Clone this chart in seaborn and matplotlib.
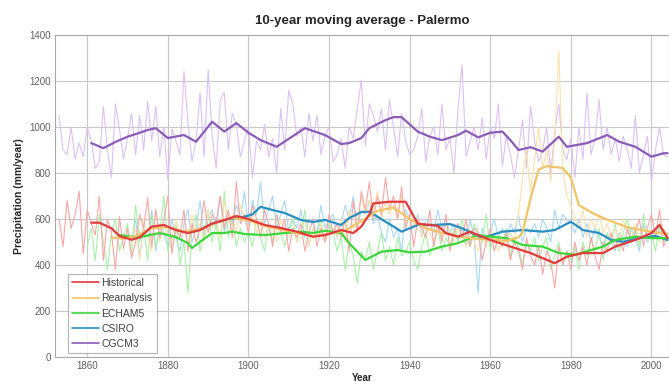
import numpy as np
import pandas as pd
import seaborn as sns
import matplotlib.pyplot as plt
from matplotlib.lines import Line2D

sns.set_style('whitegrid')
plt.rcParams['font.family'] = ['Liberation Sans', 'DejaVu Sans']

# ----------------------------------------------------------------------
# data: yearly precipitation (thin) and 10-year moving average (thick)
# ----------------------------------------------------------------------

series_names = ['Historical', 'Reanalysis', 'ECHAM5', 'CSIRO', 'CGCM3']

hist_start = 1853
hist_raw = [600, 480, 680, 560, 620, 720, 450, 640, 580, 530,
            700, 420, 600, 540, 380, 610, 470, 560, 430, 500,
            620, 560, 690, 480, 640, 520, 600, 700, 450, 560,
            520, 640, 460, 580, 500, 560, 680, 540, 620, 590,
            700, 560, 640, 520, 760, 580, 620, 540, 660, 600,
            520, 640, 580, 480, 620, 540, 600, 460, 560, 520,
            580, 460, 540, 600, 480, 560, 500, 620, 540, 580,
            520, 600, 460, 680, 540, 720, 640, 760, 600, 700,
            620, 780, 640, 700, 600, 740, 560, 620, 480, 600,
            560, 520, 640, 480, 580, 500, 620, 460, 540, 580,
            520, 600, 480, 560, 540, 420, 500, 560, 460, 520,
            480, 540, 420, 500, 460, 380, 520, 440, 400, 480,
            360, 460, 420, 300, 480, 400, 460, 380, 500, 420,
            480, 400, 520, 440, 380, 500, 460, 540, 480, 520,
            460, 560, 500, 540, 600, 480, 560, 620, 520, 640,
            480, 520]

rean_start = 1871
rean_raw = [480, 560, 420, 600, 520, 460, 640, 500, 580, 540,
            460, 600, 520, 560, 480, 620, 540, 580, 500, 640,
            560, 600, 520, 680, 580, 620, 540, 660, 600, 560,
            620, 540, 600, 520, 580, 560, 500, 600, 540, 520,
            560, 500, 540, 600, 480, 560, 520, 580, 500, 540,
            560, 520, 600, 500, 640, 560, 600, 700, 620, 680,
            640, 720, 600, 680, 620, 660, 600, 700, 580, 620,
            560, 600, 520, 580, 540, 500, 560, 520, 580, 540,
            500, 560, 520, 480, 540, 500, 460, 520, 480, 540,
            500, 460, 520, 480, 540, 500, 620, 780, 900, 720,
            860, 1000, 820, 900, 760, 940, 1330, 820, 700, 660,
            600, 560, 640, 520, 600, 560, 620, 540, 580, 520,
            560, 500, 600, 540, 520, 580, 500, 560, 540, 520,
            540, 500, 560, 520]

echam_start = 1860
echam_raw = [480, 560, 420, 620, 500, 380, 540, 600, 460, 520,
             580, 440, 660, 500, 560, 420, 620, 480, 540, 700,
             460, 520, 580, 400, 500, 280, 560, 620, 460, 540,
             640, 500, 580, 460, 720, 520, 600, 480, 560, 500,
             540, 480, 600, 520, 460, 580, 500, 620, 540, 480,
             560, 600, 500, 540, 640, 480, 560, 520, 600, 500,
             580, 540, 460, 520, 380, 500, 440, 320, 460, 420,
             500, 380, 460, 540, 420, 480, 400, 520, 440, 460,
             500, 420, 380, 480, 540, 440, 500, 560, 460, 520,
             480, 560, 500, 600, 520, 480, 580, 540, 500, 620,
             460, 540, 500, 480, 560, 440, 520, 480, 400, 500,
             460, 520, 420, 480, 520, 380, 440, 500, 400, 460,
             420, 480, 380, 500, 440, 520, 460, 560, 420, 540,
             500, 580, 460, 540, 600, 500, 560, 480, 620, 520,
             540, 460, 580, 500, 520]

csiro_start = 1871
csiro_raw = [500, 600, 440, 560, 520, 640, 460, 580, 540, 480,
             600, 520, 460, 580, 640, 500, 560, 680, 520, 600,
             640, 560, 700, 540, 620, 580, 660, 600, 720, 560,
             680, 620, 760, 580, 640, 700, 560, 620, 680, 540,
             600, 560, 640, 520, 600, 580, 540, 660, 560, 600,
             620, 520, 580, 660, 600, 700, 560, 640, 620, 680,
             580, 620, 540, 500, 600, 520, 560, 460, 640, 600,
             560, 620, 520, 600, 580, 540, 640, 560, 600, 540,
             580, 500, 560, 480, 600, 520, 280, 560, 500, 540,
             600, 520, 560, 500, 580, 540, 620, 500, 560, 540,
             580, 520, 600, 560, 500, 640, 560, 620, 600, 580,
             540, 600, 520, 580, 500, 560, 520, 480, 540, 500,
             460, 540, 500, 480, 560, 520, 460, 580, 500, 540,
             520, 560, 500, 540]

cgcm_start = 1853
cgcm_raw = [1050, 900, 880, 1000, 860, 930, 870, 1000, 940, 820,
            850, 1090, 900, 780, 1100, 990, 860, 950, 1060, 880,
            1050, 900, 1110, 940, 1090, 870, 1000, 770, 990, 940,
            880, 1240, 1020, 850, 940, 1150, 870, 1248, 960, 820,
            1120, 1150, 900, 1060, 1010, 870, 940, 1000, 780, 940,
            900, 1010, 870, 950, 800, 1080, 900, 1160, 1100, 960,
            1000, 870, 1060, 940, 1050, 880, 960, 1000, 850, 880,
            950, 820, 1000, 950, 1080, 1204, 920, 1100, 1050, 980,
            1080, 900, 1120, 1000, 870, 1060, 940, 880, 900, 960,
            1080, 850, 960, 1000, 880, 1100, 900, 950, 800, 1080,
            1270, 870, 940, 1000, 900, 1040, 860, 1000, 950, 1100,
            830, 960, 880, 780, 900, 1030, 820, 1090, 940, 850,
            900, 1000, 800, 980, 1100, 900, 860, 950, 780, 1000,
            860, 1148, 880, 950, 1120, 900, 1000, 880, 950, 850,
            960, 900, 820, 1050, 800, 880, 960, 760, 900, 1000,
            880, 870]

# 10-year moving averages
hist_ma_years = [1861, 1863, 1866, 1868, 1871, 1873, 1876, 1879, 1882, 1885,
                 1888, 1891, 1894, 1897, 1900, 1904, 1908, 1912, 1916, 1919,
                 1923, 1926, 1928, 1930, 1931, 1935, 1939, 1942, 1947, 1949,
                 1952, 1955, 1960, 1965, 1970, 1976, 1979, 1983, 1988, 1991,
                 1996, 2000, 2002, 2004]
hist_ma = [584, 584, 560, 526, 510, 520, 567, 574, 552, 539,
           552, 580, 595, 613, 600, 574, 561, 545, 523, 530,
           552, 539, 567, 620, 668, 675, 675, 580, 570, 539,
           523, 545, 509, 480, 452, 408, 436, 452, 452, 480,
           509, 539, 574, 517]

rean_ma_years = [1866, 1869, 1872, 1876, 1880, 1884, 1888, 1892, 1896, 1900,
                 1904, 1908, 1912, 1916, 1920, 1924, 1928, 1932, 1936, 1940,
                 1944, 1948, 1952, 1956, 1960, 1964, 1967, 1968, 1970, 1972,
                 1974, 1978, 1980, 1982, 1986, 1990, 1994, 1998, 2002, 2004]
rean_ma = [520, 515, 525, 560, 565, 545, 555, 585, 605, 595,
           570, 555, 540, 525, 535, 550, 590, 635, 650, 600,
           560, 540, 525, 515, 510, 505, 520, 540, 690, 815,
           830, 822, 780, 660, 620, 590, 565, 550, 540, 535]

echam_ma_years = [1868, 1870, 1873, 1878, 1882, 1885, 1886, 1888, 1891, 1894,
                  1896, 1899, 1904, 1909, 1913, 1916, 1919, 1923, 1925, 1927,
                  1929, 1933, 1937, 1940, 1944, 1948, 1952, 1957, 1960, 1964,
                  1968, 1973, 1977, 1981, 1985, 1988, 1991, 1996, 2000, 2004]
echam_ma = [530, 525, 521, 539, 521, 495, 474, 501, 539, 539,
            545, 535, 530, 539, 545, 539, 549, 539, 495, 458,
            422, 458, 465, 455, 458, 480, 495, 530, 523, 517,
            487, 480, 452, 445, 465, 480, 509, 523, 517, 517]

csiro_ma_years = [1885, 1888, 1891, 1895, 1898, 1901, 1903, 1906, 1909, 1913,
                  1916, 1919, 1923, 1925, 1928, 1930, 1932, 1936, 1938, 1942,
                  1946, 1950, 1953, 1958, 1963, 1968, 1973, 1976, 1980, 1983,
                  1987, 1990, 1993, 1997, 2001, 2004]
csiro_ma = [540, 555, 580, 600, 605, 620, 653, 639, 626, 596,
            587, 596, 574, 604, 630, 632, 610, 567, 545, 574,
            574, 578, 560, 517, 545, 552, 545, 552, 588, 552,
            539, 509, 501, 517, 526, 509]

cgcm_ma_years = [1861, 1864, 1867, 1870, 1873, 1875, 1877, 1880, 1884, 1887,
                 1891, 1894, 1897, 1900, 1903, 1907, 1911, 1914, 1919, 1923,
                 1925, 1928, 1930, 1934, 1936, 1938, 1942, 1945, 1948, 1952,
                 1954, 1957, 1960, 1963, 1965, 1967, 1970, 1973, 1977, 1979,
                 1984, 1989, 1992, 1996, 2000, 2003, 2004]
cgcm_ma = [930, 908, 935, 958, 975, 987, 995, 952, 965, 936,
           1023, 980, 1017, 975, 943, 914, 960, 995, 965, 926,
           930, 952, 995, 1030, 1043, 1043, 980, 958, 943, 965,
           984, 955, 975, 980, 943, 900, 912, 893, 958, 914,
           930, 965, 936, 914, 871, 886, 886]

ma_colors = ['#e03c3c', '#f2c468', '#3cd63c', '#2a8fc0', '#8a5cb8']
raw_colors = ['#f5a8a8', '#f9e2ae', '#aaf0aa', '#a8d8f0', '#dbc2f2']

raw_data = [(hist_start, hist_raw), (rean_start, rean_raw), (echam_start, echam_raw),
            (csiro_start, csiro_raw), (cgcm_start, cgcm_raw)]
ma_data = [(hist_ma_years, hist_ma), (rean_ma_years, rean_ma), (echam_ma_years, echam_ma),
           (csiro_ma_years, csiro_ma), (cgcm_ma_years, cgcm_ma)]

# ----------------------------------------------------------------------
# plot
# ----------------------------------------------------------------------

fig = plt.figure(figsize=(6.69, 3.82), dpi=100)
ax = fig.add_axes([55/669, 25/382, 614/669, 322/382])

# thin yearly series first, in reverse so red sits on top
for (start, vals), col in reversed(list(zip(raw_data, raw_colors))):
    df = pd.DataFrame({'year': np.arange(start, start + len(vals)), 'value': vals})
    sns.lineplot(data=df, x='year', y='value', color=col, lw=0.8, ax=ax, legend=False)

# moving averages
for i in [4, 3, 2, 1, 0]:
    yrs, vals = ma_data[i]
    df = pd.DataFrame({'year': yrs, 'value': vals})
    sns.lineplot(data=df, x='year', y='value', color=ma_colors[i], lw=1.6, ax=ax, legend=False)

ax.set_xlim(1852, 2004.35)
ax.set_ylim(0, 1400)
ax.set_xticks(range(1860, 2001, 20))
ax.set_yticks(range(0, 1401, 200))
ax.grid(True, color='#c8c8c8', lw=0.8)
for sp in ax.spines.values():
    sp.set_color('#a8a8a8')
    sp.set_linewidth(0.8)
ax.tick_params(labelsize=7, colors='#606060', direction='in', length=3, pad=3)

ax.set_title('10-year moving average - Palermo', fontsize=9.5, fontweight='bold', pad=8)
ax.set_xlabel('Year', fontsize=7, fontweight='bold', labelpad=1)
ax.set_ylabel('Precipitation (mm/year)', fontsize=7.5, fontweight='bold', labelpad=4)

handles = [Line2D([0], [0], color=c, lw=1.2) for c in ma_colors]
leg = ax.legend(handles, series_names, loc='lower left', bbox_to_anchor=(0.021, 0.012),
                borderaxespad=0, fontsize=7.5, frameon=True, fancybox=False,
                handlelength=2.6, handletextpad=0.2, labelspacing=0.5, borderpad=0.4)
leg.get_frame().set_edgecolor('#a0a0a0')
leg.get_frame().set_linewidth(0.8)
for t in leg.get_texts():
    t.set_color('#404040')

fig.savefig('out.png', dpi=100)
